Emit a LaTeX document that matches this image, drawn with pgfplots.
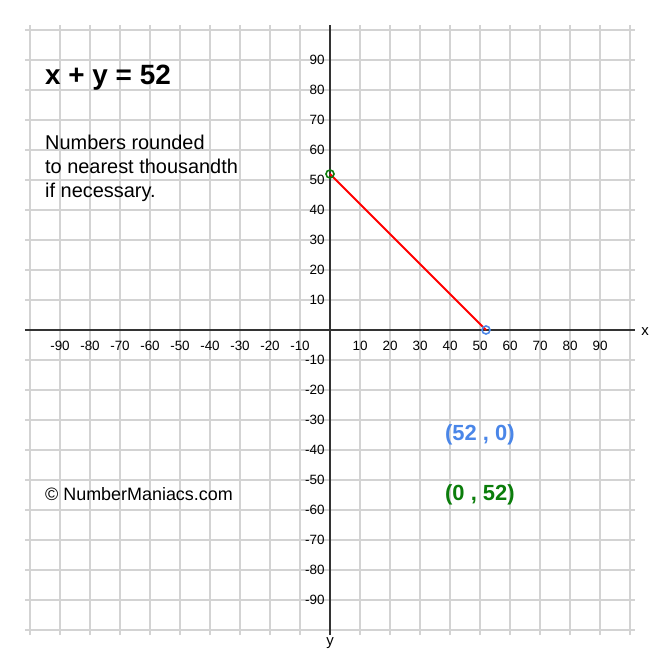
\documentclass[border=0pt]{standalone}
\usepackage{fontspec}
\setmainfont{Liberation Sans}
\usepackage{pgfplots}
\pgfplotsset{compat=1.18}
\definecolor{gridgray}{HTML}{D3D3D3}
\definecolor{axisgray}{HTML}{333333}
\definecolor{ptblue}{HTML}{4A86E8}
\definecolor{ptgreen}{HTML}{0B7D0B}
\begin{document}
\begin{tikzpicture}
\begin{axis}[
  x=3bp, y=3bp,
  xmin=-101.667, xmax=101.667,
  ymin=-101.667, ymax=101.667,
  axis lines=middle,
  axis line style={-, draw=axisgray, line width=1.5bp},
  clip=false,
  xtick={-90,-80,-70,-60,-50,-40,-30,-20,-10,10,20,30,40,50,60,70,80,90},
  ytick={-90,-80,-70,-60,-50,-40,-30,-20,-10,10,20,30,40,50,60,70,80,90},
  minor xtick={-100,0,100},
  minor ytick={-100,0,100},
  grid=both,
  major grid style={draw=gridgray, line width=1.3bp},
  minor grid style={draw=gridgray, line width=1.3bp},
  major tick length=0pt, minor tick length=0pt,
  /pgf/number format/assume math mode=true,
  ticklabel style={font=\fontsize{13.5}{16}\selectfont},
  xticklabel style={anchor=center},
  x tick label style={yshift=-15.5bp},
  y tick label style={xshift=-2bp},
]
\path (axis cs:-110,-110) rectangle (axis cs:110,110);
\addplot[red, line width=1.8bp] coordinates {(0,52) (52,0)};
\addplot[only marks, mark=o, mark size=4bp, ptgreen, mark options={line width=1.6bp}] coordinates {(0,52)};
\addplot[only marks, mark=o, mark size=4bp, ptblue, mark options={line width=1.6bp}] coordinates {(52,0)};
\node[anchor=base west, inner sep=0pt, font=\fontsize{28}{33}\selectfont\bfseries] at (axis cs:-95,81.67) {x + y = 52};
\node[anchor=base west, inner sep=0pt, font=\fontsize{20}{24}\selectfont] at (axis cs:-95,60) {Numbers rounded};
\node[anchor=base west, inner sep=0pt, font=\fontsize{20}{24}\selectfont] at (axis cs:-95,52.17) {to nearest thousandth};
\node[anchor=base west, inner sep=0pt, font=\fontsize{20}{24}\selectfont] at (axis cs:-95,44.33) {if necessary.};
\node[anchor=base west, inner sep=0pt, font=\fontsize{18}{22}\selectfont] at (axis cs:-95,-56.67) {© NumberManiacs.com};
\node[anchor=base west, inner sep=0pt, text=ptblue, font=\fontsize{22}{26}\selectfont\bfseries] at (axis cs:38.33,-37) {(52 , 0)};
\node[anchor=base west, inner sep=0pt, text=ptgreen, font=\fontsize{22}{26}\selectfont\bfseries] at (axis cs:38.33,-56.9) {(0 , 52)};
\node[anchor=center, inner sep=0pt, font=\fontsize{15}{18}\selectfont] at (axis cs:105,-0.5) {x};
\node[anchor=center, inner sep=0pt, font=\fontsize{15}{18}\selectfont] at (axis cs:0,-104.3) {y};
\end{axis}
\end{tikzpicture}
\end{document}
